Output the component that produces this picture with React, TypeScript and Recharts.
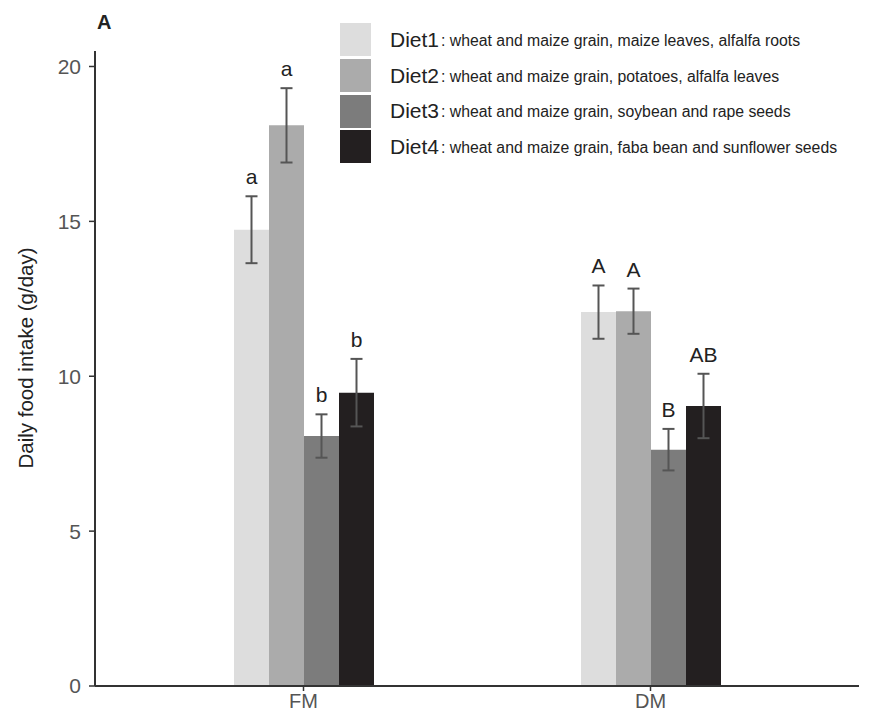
import React from 'react';
import { BarChart, Bar, XAxis, YAxis, ErrorBar, LabelList, Legend } from 'recharts';

const categories = ['FM', 'DM'];
const diet1 = [14.73, 12.07];
const diet1Err = [1.08, 0.86];
const diet2 = [18.1, 12.1];
const diet2Err = [1.2, 0.73];
const diet3 = [8.07, 7.63];
const diet3Err = [0.7, 0.67];
const diet4 = [9.47, 9.04];
const diet4Err = [1.09, 1.04];
const diet1Letters = ['a', 'A'];
const diet2Letters = ['a', 'A'];
const diet3Letters = ['b', 'B'];
const diet4Letters = ['b', 'AB'];
const yTicks = [0, 5, 10, 15, 20];

const dietNames = ['Diet1', 'Diet2', 'Diet3', 'Diet4'];
const dietDescriptions = [
  'wheat and maize grain, maize leaves, alfalfa roots',
  'wheat and maize grain, potatoes, alfalfa leaves',
  'wheat and maize grain, soybean and rape seeds',
  'wheat and maize grain, faba bean and sunflower seeds',
];
const colors = ['#dddddd', '#ababab', '#7c7c7c', '#231f20'];

const data = categories.map((c, i) => ({
  cat: c,
  d1: diet1[i], e1: diet1Err[i],
  d2: diet2[i], e2: diet2Err[i],
  d3: diet3[i], e3: diet3Err[i],
  d4: diet4[i], e4: diet4Err[i],
}));

const series = [
  { key: 'd1', err: 'e1', errs: diet1Err, letters: diet1Letters },
  { key: 'd2', err: 'e2', errs: diet2Err, letters: diet2Letters },
  { key: 'd3', err: 'e3', errs: diet3Err, letters: diet3Letters },
  { key: 'd4', err: 'e4', errs: diet4Err, letters: diet4Letters },
];

const FONT = '"Liberation Sans", Arial, Helvetica, sans-serif';

const makeLetter = (letters: string[], errs: number[]) => (props: any) => {
  const { x, y, width, height, value, index } = props;
  const v = Number(value);
  if (!v) return null;
  const pxPerUnit = Number(height) / v;
  const errTop = Number(y) - errs[index] * pxPerUnit;
  return (
    <text
      x={Number(x) + Number(width) / 2}
      y={errTop - 12}
      textAnchor="middle"
      fontSize={21}
      fontFamily={FONT}
      fill="#222"
    >
      {letters[index]}
    </text>
  );
};

const LegendContent = () => (
  <div style={{ fontFamily: FONT }}>
    {dietNames.map((n, i) => (
      <div key={n} style={{ display: 'flex', alignItems: 'center', height: 35.7 }}>
        <div style={{ width: 31, height: 33, background: colors[i], marginRight: 19 }} />
        <span style={{ fontSize: 21, color: '#222', whiteSpace: 'nowrap' }}>{n}</span>
        <span style={{ fontSize: 15.8, color: '#222', whiteSpace: 'nowrap', marginLeft: 2, paddingTop: 2 }}>: {dietDescriptions[i]}</span>
      </div>
    ))}
  </div>
);

const YLabel = () => (
  <text
    transform="translate(33,358) rotate(-90)"
    textAnchor="middle"
    fontSize={20.5}
    fontFamily={FONT}
    fill="#222"
  >
    Daily food intake (g/day)
  </text>
);

export default function App() {
  return (
    <div style={{ position: 'absolute', left: 0, top: 0, width: 880, height: 715, background: '#fff' }}>
      <div
        style={{
          position: 'absolute',
          left: 97,
          top: 11,
          fontFamily: FONT,
          fontWeight: 'bold',
          fontSize: 20,
          color: '#222',
          zIndex: 2,
        }}
      >
        A
      </div>
      <BarChart
        width={880}
        height={715}
        data={data}
        margin={{ top: 51, right: 21, left: 0, bottom: 0 }}
        barGap={0}
        barSize={35}
      >
        <XAxis
          dataKey="cat"
          height={29}
          padding={{ left: 35, right: 35 }}
          axisLine={{ stroke: '#333', strokeWidth: 2 }}
          tickLine={{ stroke: '#333', strokeWidth: 1.5 }}
          tickSize={5}
          tickMargin={3}
          tick={{ fontSize: 20, fill: '#555', fontFamily: FONT }}
        />
        <YAxis
          width={95}
          domain={[0, 20.5]}
          ticks={yTicks}
          allowDataOverflow
          axisLine={{ stroke: '#333', strokeWidth: 2 }}
          tickLine={{ stroke: '#333', strokeWidth: 1.5 }}
          tickSize={6}
          tickMargin={8}
          tick={{ fontSize: 21, fill: '#555', fontFamily: FONT }}
          label={<YLabel />}
        />
        <Legend
          layout="vertical"
          align="center"
          verticalAlign="middle"
          content={<LegendContent />}
          wrapperStyle={{ position: 'absolute', top: 22, left: 340, width: 535 }}
        />
        {series.map((s, i) => (
          <Bar key={s.key} dataKey={s.key} fill={colors[i]} isAnimationActive={false}>
            <ErrorBar dataKey={s.err} width={6} strokeWidth={2} stroke="#555" direction="y" />
            <LabelList dataKey={s.key} content={makeLetter(s.letters, s.errs)} />
          </Bar>
        ))}
      </BarChart>
    </div>
  );
}
